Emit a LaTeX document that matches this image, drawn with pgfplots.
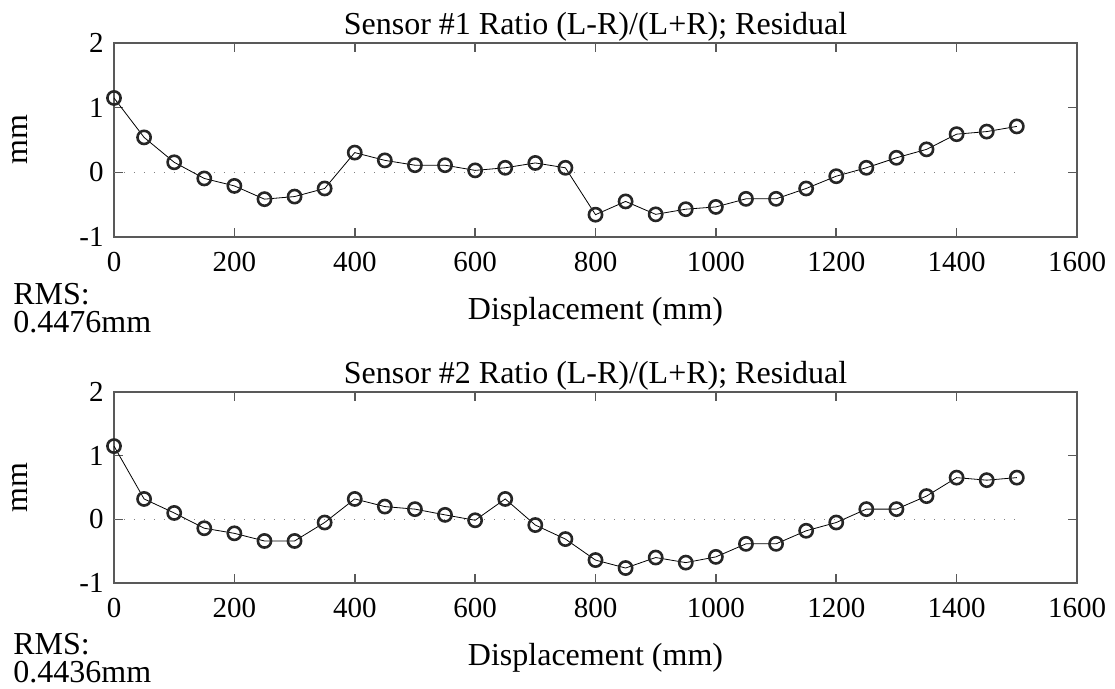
\documentclass[border=0pt]{standalone}
\usepackage{fontspec}
\setmainfont{Liberation Serif}
\usepackage{pgfplots}
\usepackage{pgfplotstable}
\pgfplotsset{compat=1.18}

\pgfplotstableread{
x y
0 1.15
50 0.54
100 0.155
150 -0.095
200 -0.21
250 -0.415
300 -0.375
350 -0.25
400 0.305
450 0.185
500 0.11
550 0.11
600 0.03
650 0.07
700 0.145
750 0.07
800 -0.655
850 -0.45
900 -0.65
950 -0.57
1000 -0.535
1050 -0.41
1100 -0.41
1150 -0.25
1200 -0.06
1250 0.07
1300 0.225
1350 0.355
1400 0.59
1450 0.63
1500 0.71
}\sensorA

\pgfplotstableread{
x y
0 1.15
50 0.32
100 0.10
150 -0.14
200 -0.22
250 -0.34
300 -0.34
350 -0.05
400 0.32
450 0.20
500 0.16
550 0.07
600 -0.015
650 0.32
700 -0.09
750 -0.31
800 -0.64
850 -0.765
900 -0.60
950 -0.68
1000 -0.59
1050 -0.385
1100 -0.385
1150 -0.18
1200 -0.05
1250 0.16
1300 0.16
1350 0.365
1400 0.655
1450 0.615
1500 0.655
}\sensorB

\pgfplotsset{
  resid/.style={
    scale only axis,
    width=481.5pt,
    xmin=0, xmax=1600, ymin=-1, ymax=2,
    xtick={0,200,...,1600},
    ytick={-1,0,1,2},
    /pgf/number format/assume math mode=true,
    /pgf/number format/1000 sep={},
    tick align=inside,
    major tick length=4.5pt,
    axis line style={black!65, line width=0.8pt},
    every tick/.style={black!65, line width=0.8pt},
    tick label style={font=\fontsize{14.5}{17}\selectfont},
    xticklabel style={anchor=base, inner sep=0pt, yshift=-17.5pt},
    yticklabel style={anchor=east, inner sep=0pt, xshift=-5pt},
    label style={font=\fontsize{16}{19}\selectfont},
    title style={font=\fontsize{16}{19}\selectfont, at={(axis description cs:0.5,1)}, anchor=base, yshift=-1.8pt},
    xlabel style={at={(axis description cs:0.5,0)}, anchor=base, yshift=-41.5pt},
    ylabel style={at={(axis description cs:-0.0976,0.5)}, anchor=center, rotate=0},
    xlabel={Displacement (mm)},
    ylabel={mm},
  },
  zeroline/.style={gray, line width=0.5pt, dash pattern=on 0.6pt off 4.4pt},
  resline/.style={black, line width=0.4pt, mark=o, mark size=3.3pt,
    mark options={solid, black!85, line width=1.3pt}},
}

\begin{document}
\begin{tikzpicture}
\useasboundingbox (0,0) rectangle (557.5pt,344.5pt);

\begin{axis}[resid, at={(57pt,226pt)}, anchor=south west, height=97pt,
  title={Sensor \#1 Ratio (L-R)/(L+R); Residual}]
  \addplot[zeroline] coordinates {(0,0) (1500,0)};
  \addplot[resline] table[x=x,y=y] {\sensorA};
\end{axis}

\begin{axis}[resid, at={(57pt,53pt)}, anchor=south west, height=95.5pt,
  title={Sensor \#2 Ratio (L-R)/(L+R); Residual}]
  \addplot[zeroline] coordinates {(0,0) (1500,0)};
  \addplot[resline] table[x=x,y=y] {\sensorB};
\end{axis}

\begin{scope}[every node/.style={font=\fontsize{16}{19}\selectfont, inner sep=0pt, anchor=base west}]
\node at (6.5pt,192pt) {RMS:};
\node at (6.5pt,178pt) {0.4476mm};
\node at (6.5pt,17pt) {RMS:};
\node at (6.5pt,3pt) {0.4436mm};
\end{scope}
\end{tikzpicture}
\end{document}
